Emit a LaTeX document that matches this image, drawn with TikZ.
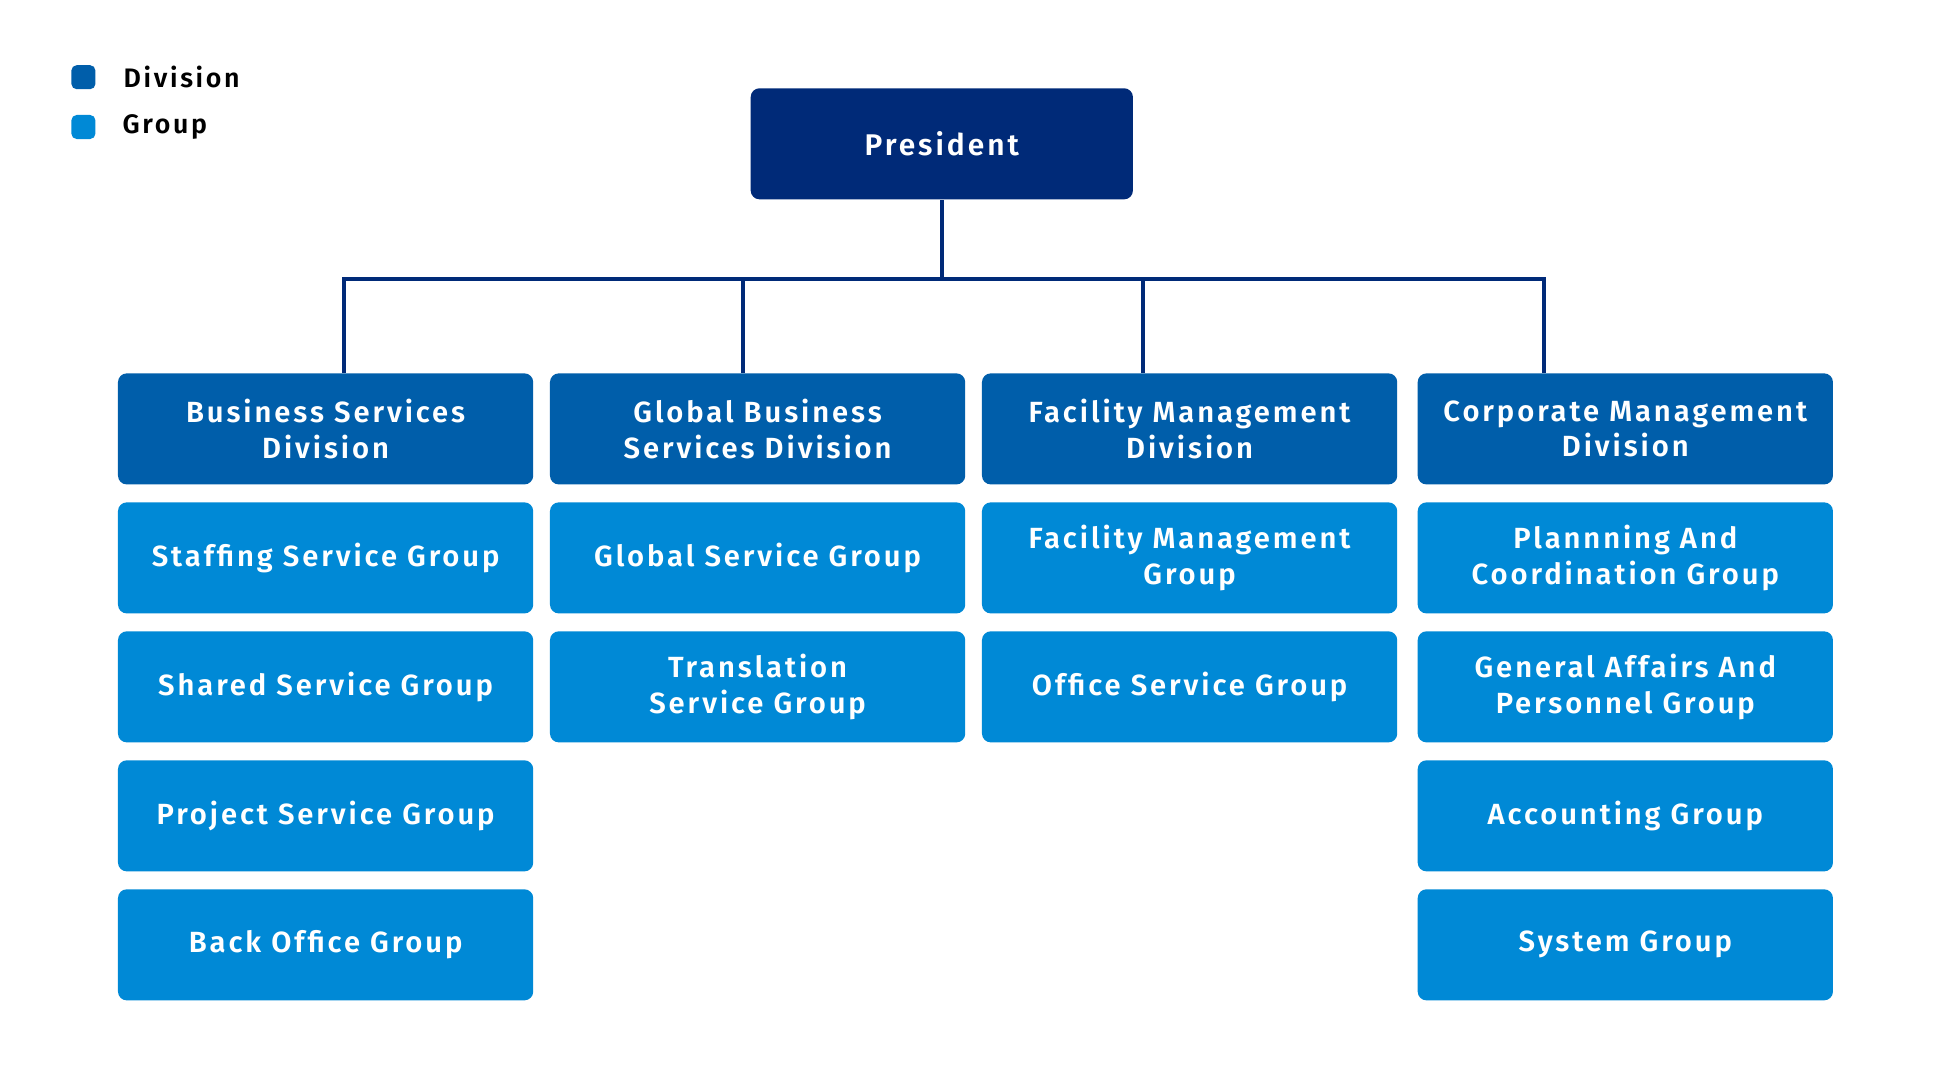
\documentclass[tikz,border=0pt]{standalone}
\usepackage{fontspec}
\setmainfont{Fira Sans}[BoldFont={Fira Sans SemiBold}, LetterSpace=10]
\usetikzlibrary{positioning, calc}
\definecolor{presNavy}{RGB}{0, 42, 120}
\definecolor{divBlue}{RGB}{0, 94, 170}
\definecolor{grpBlue}{RGB}{0, 137, 214}

\begin{document}
\begin{tikzpicture}[
    x=0.01cm, y=-0.01cm,
    font=\fontsize{8.3}{10.2}\selectfont\bfseries,
    box/.style={rectangle, rounded corners=2.5pt, minimum width=4.15cm, minimum height=1.11cm, align=center, text=white, inner sep=0pt},
    pres/.style={box, fill=presNavy, minimum width=3.82cm, font=\fontsize{8.5}{11}\selectfont\bfseries},
    div/.style={box, fill=divBlue},
    grp/.style={box, fill=grpBlue},
    legsq/.style={rectangle, rounded corners=1.5pt, minimum size=0.24cm, inner sep=0pt},
    legtxt/.style={font=\fontsize{7.6}{9}\selectfont\bfseries},
    link/.style={presNavy, line width=1.15pt},
    node distance=0.165cm
]
\useasboundingbox[fill=white] (0,0) rectangle (1952,1088);

% legend
\node[legsq, fill=divBlue] (legdiv) at (83.4,77.2) {};
\node[legsq, fill=grpBlue] (leggrp) at (83.4,127) {};
\node[legtxt, right=0.15cm of legdiv] (legdivtxt) {Division};
\node[legtxt, right=0.14cm of leggrp] (leggrptxt) {Group};

% top
\node[pres] (president) at (941.8,143.8) {President};

% divisions
\node[div] (bsd) at (325.6,428.9)  {Business Services\\Division};
\node[div] (gbsd) at (757.6,428.9) {Global Business\\Services Division};
\node[div] (fmd) at (1189.6,428.9) {Facility Management\\Division};
\node[div] (cmd) at (1625.3,428.9) {Corporate Management\\Division};

% groups
\node[grp, below=of bsd] (staff)  {Staffing Service Group};
\node[grp, below=of staff] (shared) {Shared Service Group};
\node[grp, below=of shared] (proj) {Project Service Group};
\node[grp, below=of proj] (back) {Back Office Group};

\node[grp, below=of gbsd] (glob)   {Global Service Group};
\node[grp, below=of glob] (trans)  {Translation\\Service Group};

\node[grp, below=of fmd] (fmg)     {Facility Management\\Group};
\node[grp, below=of fmg] (office)  {Office Service Group};

\node[grp, below=of cmd] (plan)    {Plannning And\\Coordination Group};
\node[grp, below=of plan] (genaff) {General Affairs And\\Personnel Group};
\node[grp, below=of genaff] (acc)  {Accounting Group};
\node[grp, below=of acc] (sys)     {System Group};

% connectors
\coordinate (bus) at (941.8,278.9);
\coordinate (drop1) at (343.6,278.9);
\coordinate (drop2) at (743.3,278.9);
\coordinate (drop3) at (1142.9,278.9);
\coordinate (drop4) at (1543.8,278.9);

\draw[link] (president.south) -- (bus);
\draw[link] (drop1 |- bsd.north) -- (drop1) -- (drop4) -- (drop4 |- cmd.north);
\draw[link] (drop2) -- (drop2 |- gbsd.north);
\draw[link] (drop3) -- (drop3 |- fmd.north);
\end{tikzpicture}
\end{document}
